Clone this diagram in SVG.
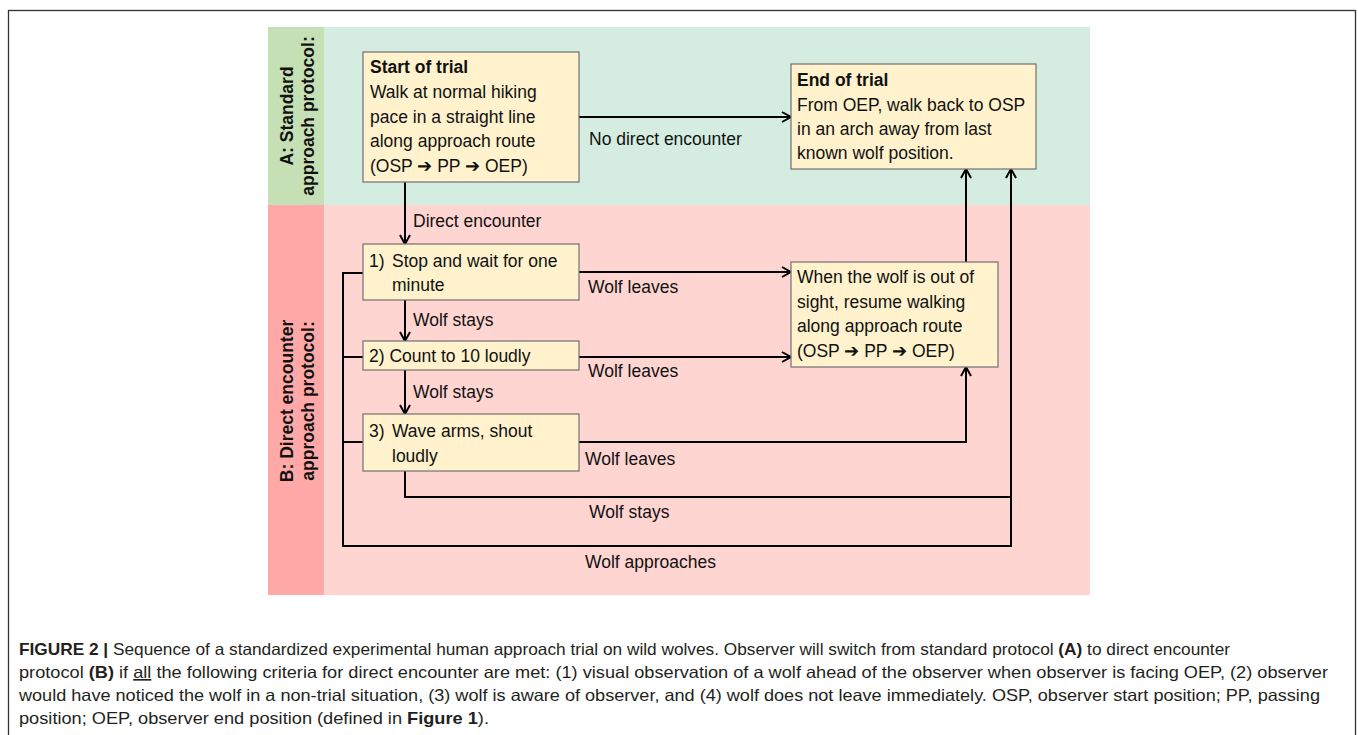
<svg xmlns="http://www.w3.org/2000/svg" width="1358" height="735" viewBox="0 0 1358 735">
<style>
  .t { font-family: "Liberation Sans", Arial, sans-serif; font-size: 17.5px; fill: #111; }
  .b { font-weight: bold; }
  .side { font-family: "Liberation Sans", Arial, sans-serif; font-size: 17.5px; font-weight: bold; fill: #111; text-anchor: middle; }
  .box { fill: #fff2cc; stroke: #707070; stroke-width: 1.2; }
  .con { fill: none; stroke: #000; stroke-width: 2; }
  .cap { font-family: "Liberation Sans", Arial, sans-serif; font-size: 16.5px; fill: #231f20; }
</style>
<defs>
  <marker id="arr" markerUnits="userSpaceOnUse" markerWidth="14" markerHeight="14" viewBox="-12 -7 14 14" refX="0" refY="0" orient="auto">
    <path d="M-9,-5 L0,0 L-9,5" fill="none" stroke="#000" stroke-width="2"/>
  </marker>
</defs>
<rect x="0" y="0" width="1358" height="735" fill="#fff"/>
<rect x="8.5" y="10.5" width="1347" height="740" fill="none" stroke="#333" stroke-width="1.3"/>

<g id="bands">
  <rect x="268" y="27" width="822" height="178" fill="#d4ede0"/>
  <rect x="268" y="27" width="56" height="178" fill="#c5e0b4"/>
  <rect x="268" y="205" width="822" height="390" fill="#ffd5d2"/>
  <rect x="268" y="205" width="56" height="390" fill="#ffa8a8"/>
  <text class="side" transform="translate(293,116) rotate(-90)">A: Standard</text>
  <text class="side" transform="translate(314,116) rotate(-90)">approach protocol:</text>
  <text class="side" transform="translate(293,401) rotate(-90)">B: Direct encounter</text>
  <text class="side" transform="translate(314,401) rotate(-90)">approach protocol:</text>
</g>

<g id="connectors">
  <line class="con" x1="405" y1="182" x2="405" y2="244" marker-end="url(#arr)"/>
  <line class="con" x1="579" y1="117" x2="791" y2="117" marker-end="url(#arr)"/>
  <line class="con" x1="579" y1="272" x2="791" y2="272" marker-end="url(#arr)"/>
  <line class="con" x1="405" y1="300" x2="405" y2="341" marker-end="url(#arr)"/>
  <line class="con" x1="579" y1="357" x2="791" y2="357" marker-end="url(#arr)"/>
  <line class="con" x1="405" y1="370" x2="405" y2="414" marker-end="url(#arr)"/>
  <polyline class="con" points="579,442 966,442 966,367" marker-end="url(#arr)"/>
  <line class="con" x1="966" y1="262" x2="966" y2="169" marker-end="url(#arr)"/>
  <polyline class="con" points="405,471 405,497 1011,497"/>
  <polyline class="con" points="363,273 343,273 343,546 1011,546 1011,169" marker-end="url(#arr)"/>
  <line class="con" x1="343" y1="357" x2="363" y2="357"/>
  <line class="con" x1="343" y1="442" x2="363" y2="442"/>
  <text class="t" x="589" y="145">No direct encounter</text>
  <text class="t" x="413" y="227">Direct encounter</text>
  <text class="t" x="588" y="293">Wolf leaves</text>
  <text class="t" x="413" y="326">Wolf stays</text>
  <text class="t" x="588" y="377">Wolf leaves</text>
  <text class="t" x="413" y="398">Wolf stays</text>
  <text class="t" x="585" y="465">Wolf leaves</text>
  <text class="t" x="589" y="518">Wolf stays</text>
  <text class="t" x="585" y="568">Wolf approaches</text>
</g>

<g id="start">
  <rect class="box" x="363" y="52" width="216" height="130"/>
  <text class="t b" x="370" y="73">Start of trial</text>
  <text class="t" x="370" y="98">Walk at normal hiking</text>
  <text class="t" x="370" y="123">pace in a straight line</text>
  <text class="t" x="370" y="147">along approach route</text>
  <text class="t" x="370" y="172">(OSP ➔ PP ➔ OEP)</text>
</g>

<g id="end">
  <rect class="box" x="791" y="64" width="245" height="105"/>
  <text class="t b" x="797" y="86">End of trial</text>
  <text class="t" x="797" y="111">From OEP, walk back to OSP</text>
  <text class="t" x="797" y="135">in an arch away from last</text>
  <text class="t" x="797" y="159">known wolf position.</text>
</g>

<g id="step1">
  <rect class="box" x="363" y="244" width="216" height="56"/>
  <text class="t" x="369" y="267">1)</text>
  <text class="t" x="392" y="267">Stop and wait for one</text>
  <text class="t" x="392" y="291">minute</text>
</g>

<g id="step2">
  <rect class="box" x="363" y="341" width="216" height="29"/>
  <text class="t" x="369" y="362">2) Count to 10 loudly</text>
</g>

<g id="step3">
  <rect class="box" x="363" y="414" width="216" height="57"/>
  <text class="t" x="369" y="437">3)</text>
  <text class="t" x="392" y="437">Wave arms, shout</text>
  <text class="t" x="392" y="462">loudly</text>
</g>

<g id="resume">
  <rect class="box" x="791" y="262" width="207" height="105"/>
  <text class="t" x="797" y="283">When the wolf is out of</text>
  <text class="t" x="797" y="308">sight, resume walking</text>
  <text class="t" x="797" y="332">along approach route</text>
  <text class="t" x="797" y="357">(OSP ➔ PP ➔ OEP)</text>
</g>

<g id="caption">
  <text class="cap" x="19" y="655" textLength="1211" lengthAdjust="spacingAndGlyphs"><tspan font-weight="bold">FIGURE 2 |</tspan> Sequence of a standardized experimental human approach trial on wild wolves. Observer will switch from standard protocol <tspan font-weight="bold">(A)</tspan> to direct encounter</text>
  <text class="cap" x="19" y="678" textLength="1309" lengthAdjust="spacingAndGlyphs">protocol <tspan font-weight="bold">(B)</tspan> if <tspan text-decoration="underline">all</tspan> the following criteria for direct encounter are met: (1) visual observation of a wolf ahead of the observer when observer is facing OEP, (2) observer</text>
  <text class="cap" x="19" y="701" textLength="1301" lengthAdjust="spacingAndGlyphs">would have noticed the wolf in a non-trial situation, (3) wolf is aware of observer, and (4) wolf does not leave immediately. OSP, observer start position; PP, passing</text>
  <text class="cap" x="19" y="724" textLength="470" lengthAdjust="spacingAndGlyphs">position; OEP, observer end position (defined in <tspan font-weight="bold">Figure 1</tspan>).</text>
</g>
</svg>
